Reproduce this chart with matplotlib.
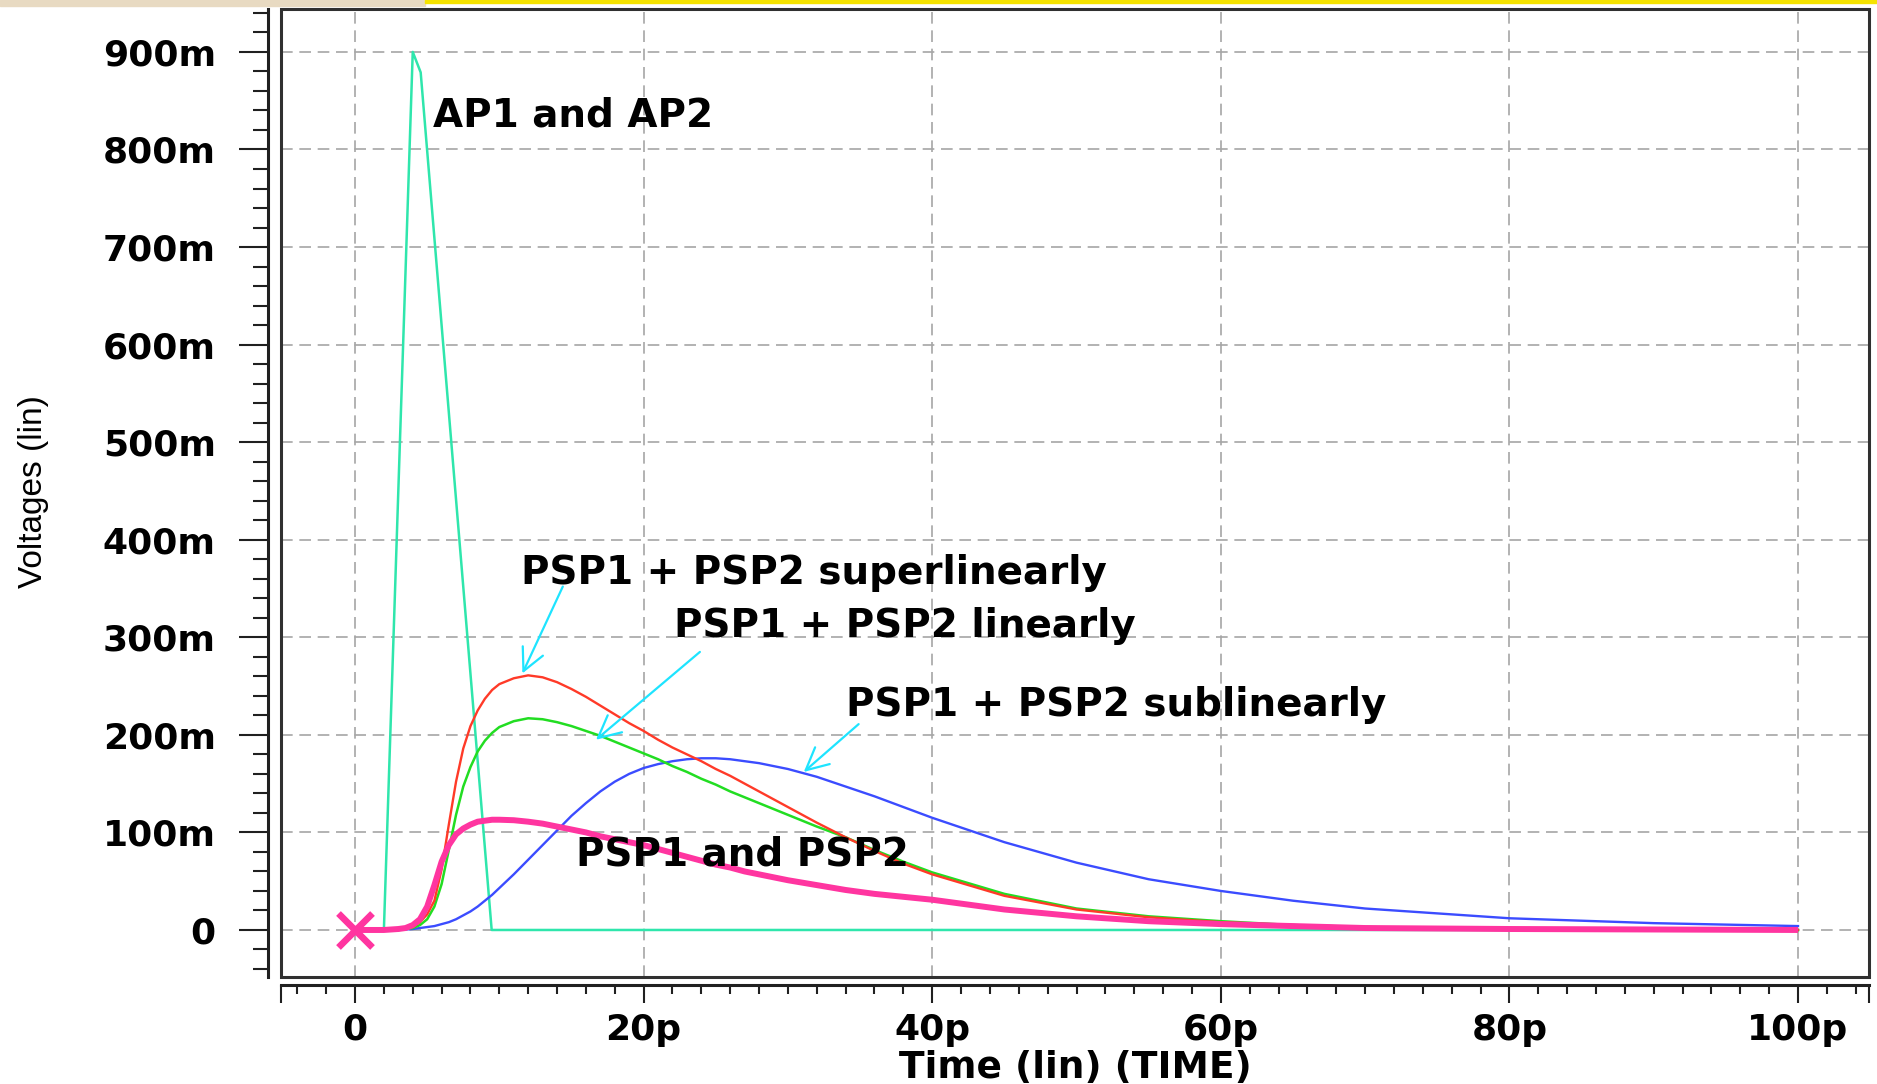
import numpy as np
import matplotlib.pyplot as plt
from matplotlib import font_manager
from matplotlib.patches import Rectangle
from matplotlib.ticker import MultipleLocator

# ---- data (time in ps, voltage in V) ----
t_ap = [0, 2.0, 4.0, 4.55, 9.47, 100]
v_ap = [0, 0, 0.900, 0.879, 0, 0]

t_psp = [0, 2, 3, 3.5, 4, 4.5, 5, 5.5, 6, 6.5, 7, 7.5, 8, 8.5, 9, 9.5, 10,
         11, 12, 13, 14, 15, 16, 17, 18, 19, 20, 21, 22, 23, 24, 25, 26, 27, 28, 29, 30,
         32, 34, 36, 38, 40, 45, 50, 55, 60, 65, 70, 80, 90, 100]

# PSP1 and PSP2 (overlapping, thick pink)
v_psp = [0, 0, 0.001, 0.002, 0.005, 0.011, 0.024, 0.046, 0.070, 0.087, 0.098, 0.104,
         0.108, 0.111, 0.112, 0.113, 0.113,
         0.1125, 0.111, 0.109, 0.106, 0.103, 0.100, 0.096, 0.093, 0.090, 0.087,
         0.083, 0.079, 0.075, 0.071, 0.067, 0.064, 0.060, 0.057, 0.054, 0.051,
         0.046, 0.041, 0.037, 0.034, 0.031, 0.021, 0.014, 0.009, 0.006, 0.004, 0.002,
         0.001, 0.0005, 0]

# PSP1 + PSP2 superlinearly (red)
v_super = [0, 0, 0, 0.001, 0.003, 0.008, 0.016, 0.030, 0.062, 0.108, 0.152, 0.186,
           0.209, 0.225, 0.237, 0.246, 0.252,
           0.258, 0.261, 0.259, 0.254, 0.247, 0.239, 0.230, 0.221, 0.212, 0.204,
           0.195, 0.187, 0.180, 0.173, 0.165, 0.158, 0.150, 0.142, 0.134, 0.126,
           0.110, 0.095, 0.081, 0.068, 0.057, 0.035, 0.021, 0.013, 0.008, 0.005, 0.003,
           0.001, 0.0004, 0]

# PSP1 + PSP2 linearly (green)
v_linear = [0, 0, 0, 0.001, 0.002, 0.005, 0.011, 0.024, 0.047, 0.082, 0.118, 0.147,
            0.167, 0.183, 0.194, 0.202, 0.208,
            0.214, 0.217, 0.216, 0.213, 0.209, 0.204, 0.199, 0.193, 0.187, 0.181,
            0.175, 0.168, 0.162, 0.155, 0.149, 0.142, 0.136, 0.130, 0.124, 0.118,
            0.106, 0.095, 0.082, 0.070, 0.059, 0.037, 0.022, 0.014, 0.009, 0.005, 0.003,
            0.001, 0.0004, 0]

# PSP1 + PSP2 sublinearly (blue)
v_sub = [0, 0, 0, 0.0005, 0.001, 0.002, 0.003, 0.004, 0.006, 0.008, 0.011, 0.015,
         0.019, 0.024, 0.030, 0.036, 0.043,
         0.057, 0.072, 0.087, 0.102, 0.117, 0.130, 0.142, 0.152, 0.160, 0.166,
         0.170, 0.173, 0.175, 0.176, 0.176, 0.175, 0.173, 0.171, 0.168, 0.165,
         0.157, 0.147, 0.137, 0.126, 0.115, 0.090, 0.069, 0.052, 0.040, 0.030, 0.022,
         0.012, 0.007, 0.004]

start_t = [0]
start_v = [0]

y_major = [0, 0.1, 0.2, 0.3, 0.4, 0.5, 0.6, 0.7, 0.8, 0.9]
y_labels = ['0', '100m', '200m', '300m', '400m', '500m', '600m', '700m', '800m', '900m']
x_major = [0, 20, 40, 60, 80, 100]
x_labels = ['0', '20p', '40p', '60p', '80p', '100p']

# annotation texts: (text, t, v)
notes = [
    ('AP1 and AP2', 5.4, 0.835),
    ('PSP1 + PSP2 superlinearly', 11.5, 0.366),
    ('PSP1 + PSP2 linearly', 22.1, 0.312),
    ('PSP1 + PSP2 sublinearly', 34.0, 0.231),
    ('PSP1 and PSP2', 15.3, 0.077),
]
# arrows: (tail, head)
arrows = [
    ((14.4, 0.352), (11.6, 0.263)),
    ((23.9, 0.285), (16.7, 0.195)),
    ((34.9, 0.211), (31.1, 0.162)),
]

xmin, xmax = -5.13, 104.92
ymin, ymax = -0.0482, 0.944

W, H = 1877, 1084
plt.rcParams['font.family'] = 'DejaVu Sans'
plt.rcParams['font.weight'] = 'bold'

fig = plt.figure(figsize=(W / 100, H / 100), dpi=100)
ax = fig.add_axes([281 / W, 1 - 977 / H, (1869 - 281) / W, (977 - 9) / H])

c_ap = '#2fe6ac'
c_red = '#ff3a28'
c_green = '#22dd22'
c_blue = '#3b4cff'
c_pink = '#ff35a0'
c_arrow = '#1ee4ff'

ax.plot(t_ap, v_ap, color=c_ap, lw=1.8, zorder=3)
ax.plot(t_psp, v_sub, color=c_blue, lw=1.7, zorder=3)
ax.plot(t_psp, v_linear, color=c_green, lw=1.8, zorder=3)
ax.plot(t_psp, v_super, color=c_red, lw=1.7, zorder=3)
ax.plot(t_psp, v_psp, color=c_pink, lw=4.3, zorder=4, solid_capstyle='butt')
ax.plot(start_t, start_v, marker='x', ms=25, mew=4.8, color=c_pink, zorder=5, clip_on=False)

for txt, tx, ty in notes:
    ax.text(tx, ty, txt, fontsize=28, fontweight='bold', ha='left', va='center', zorder=6)

for tail, head in arrows:
    ax.annotate('', xy=head, xytext=tail,
                arrowprops=dict(arrowstyle='->,head_length=0.8,head_width=0.4',
                                color=c_arrow, lw=1.6, mutation_scale=20,
                                shrinkA=0, shrinkB=0), zorder=6)

ax.set_xlim(xmin, xmax)
ax.set_ylim(ymin, ymax)

# axes: HSPICE-like detached spines
for s in ['top', 'right']:
    ax.spines[s].set_visible(False)
ax.spines['left'].set_position(('outward', 9.4))
ax.spines['bottom'].set_position(('outward', 5.8))
for s in ['left', 'bottom']:
    ax.spines[s].set_linewidth(2.2)
    ax.spines[s].set_color('#202020')
ax.add_patch(Rectangle((0, 0), 1, 1, transform=ax.transAxes, fill=False,
                       lw=2.2, edgecolor='#303030', zorder=7, clip_on=False))

ax.set_yticks(y_major, y_labels)
ax.set_xticks([xmin] + x_major + [xmax], [''] + x_labels + [''])
ax.yaxis.set_minor_locator(MultipleLocator(0.02))
ax.xaxis.set_minor_locator(MultipleLocator(2))

ax.tick_params(axis='y', which='major', length=21, width=1.5, pad=16.5,
               labelsize=26, color='#202020')
ax.tick_params(axis='y', which='minor', length=11, width=1.5, color='#202020')
ax.tick_params(axis='x', which='major', length=13, width=1.5, pad=7,
               labelsize=26, color='#202020')
ax.tick_params(axis='x', which='minor', length=6.5, width=1.5, color='#202020')

ax.grid(True, which='major', color='#a6a6a6', linestyle=(0, (7, 4)), linewidth=1.2, zorder=1)
ax.set_axisbelow(True)

ax.set_xlabel('Time (lin) (TIME)', fontsize=27, fontweight='bold', va='center')
ax.xaxis.set_label_coords(0.5, -0.094)

names = {f.name for f in font_manager.fontManager.ttflist}
yfam = 'Liberation Sans Narrow' if 'Liberation Sans Narrow' in names else 'Liberation Sans'
ysize = 29 if yfam == 'Liberation Sans Narrow' else 24
ax.set_ylabel('Voltages (lin)', fontsize=ysize, fontweight='normal', family=yfam, va='center')
ax.yaxis.set_label_coords(-0.156, 0.502)

# strip of the screenshot's top edge
fig.patches.append(Rectangle((0, 1 - 6 / H), 425 / W, 6 / H, transform=fig.transFigure,
                             color='#e8dac2', zorder=0))
fig.patches.append(Rectangle((425 / W, 1 - 3 / H), 1 - 425 / W, 3 / H, transform=fig.transFigure,
                             color='#f5e300', zorder=0))

fig.savefig('out.png', dpi=100)
